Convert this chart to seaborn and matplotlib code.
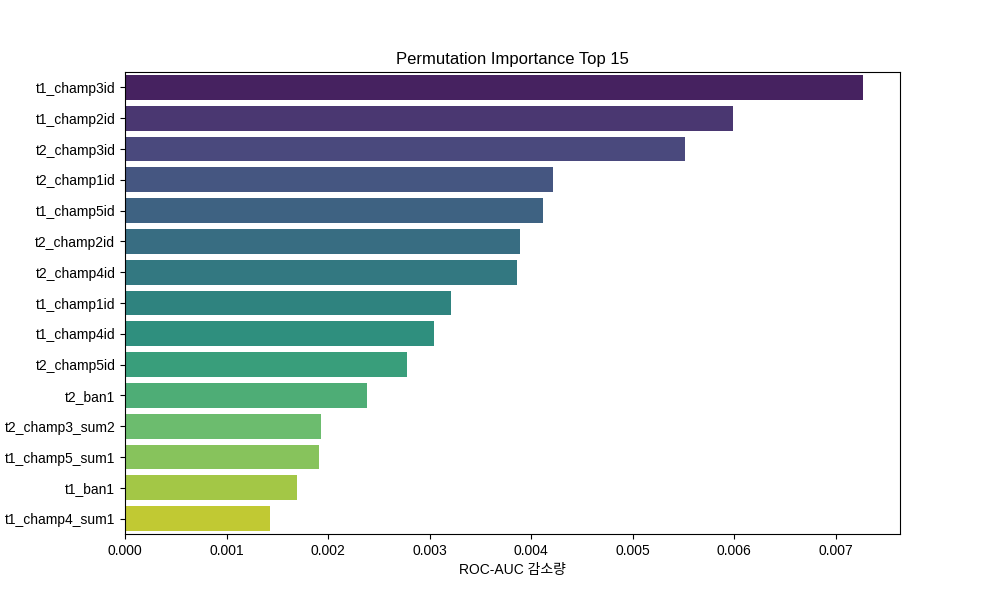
import matplotlib
matplotlib.use('Agg')
import matplotlib.pyplot as plt
import seaborn as sns
import pandas as pd

# Latin text in a narrower face, Korean falls back to Noto CJK
plt.rcParams['font.family'] = ['Liberation Sans', 'Noto Sans CJK KR', 'DejaVu Sans']
plt.rcParams['axes.unicode_minus'] = False

features = ['t1_champ3id', 't1_champ2id', 't2_champ3id', 't2_champ1id', 't1_champ5id',
            't2_champ2id', 't2_champ4id', 't1_champ1id', 't1_champ4id', 't2_champ5id',
            't2_ban1', 't2_champ3_sum2', 't1_champ5_sum1', 't1_ban1', 't1_champ4_sum1']
importance = [0.007268, 0.005987, 0.005514, 0.004214, 0.004115,
              0.003889, 0.003859, 0.003209, 0.003041, 0.002775,
              0.002381, 0.001928, 0.001908, 0.001692, 0.001426]

df = pd.DataFrame({'feature': features, 'importance': importance})

plt.figure(figsize=(10, 6))
sns.barplot(x='importance', y='feature', data=df, hue='feature',
            palette='viridis', legend=False)
plt.title('Permutation Importance Top 15')
plt.xlabel('ROC-AUC 감소량')
plt.ylabel('')
plt.savefig('out.png', dpi=100)
